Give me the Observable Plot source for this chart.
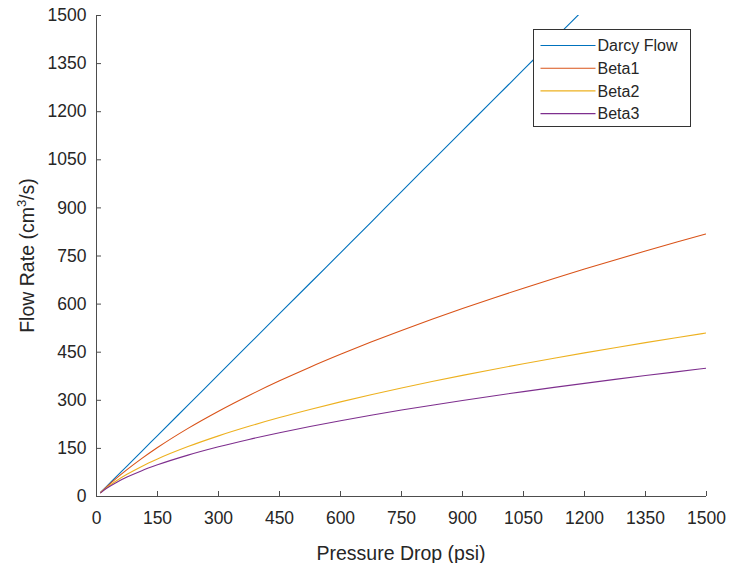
<!DOCTYPE html>
<html>
<head>
<meta charset="utf-8">
<script src="https://cdn.jsdelivr.net/npm/d3@7"></script>
<script src="https://cdn.jsdelivr.net/npm/@observablehq/plot@0.6"></script>
<style>
  html, body { margin: 0; padding: 0; background: #ffffff; }
  #chart { width: 731px; height: 563px; }
  svg { font-family: "Liberation Sans", Arial, sans-serif; }
</style>
</head>
<body>
<div id="chart"></div>
<script>
// ---- Data ----
const pressure = [10, 25, 50, 75, 110, 150, 225, 300, 375, 450, 525, 600, 675, 750, 825, 900, 975, 1050, 1125, 1200, 1275, 1350, 1425, 1500];
const darcyFlow = [12.7, 31.7, 63.4, 95, 139.4, 190, 285, 380, 475, 570, 665, 760, 855, 951, 1046, 1141, 1236, 1331, 1426, 1521, 1616, 1711, 1806, 1901];
const beta1 = [12.4, 30.2, 57.9, 83.7, 117.2, 152.6, 212.4, 266.0, 315.1, 360.6, 403.2, 443.3, 481.5, 517.9, 552.7, 586.2, 618.5, 649.7, 679.9, 709.3, 737.8, 765.5, 792.6, 819.0];
const beta2 = [11.9, 27.6, 50.0, 69.3, 93.1, 117.0, 155.6, 189.1, 218.9, 246.2, 271.4, 295.0, 317.2, 338.3, 358.4, 377.7, 396.2, 414.0, 431.2, 447.9, 464.1, 479.8, 495.1, 510.0];
const beta3 = [11.4, 25.6, 44.7, 60.6, 79.8, 98.7, 129.0, 155.0, 178.0, 199.0, 218.3, 236.4, 253.4, 269.5, 284.8, 299.5, 313.6, 327.1, 340.2, 352.9, 365.2, 377.1, 388.7, 400.1];

const seriesNames = ["Darcy Flow", "Beta1", "Beta2", "Beta3"];
const seriesColors = ["#0072BD", "#D95319", "#EDB120", "#7E2F8E"];
const xTicks = [0, 150, 300, 450, 600, 750, 900, 1050, 1200, 1350, 1500];
const yTicks = [0, 150, 300, 450, 600, 750, 900, 1050, 1200, 1350, 1500];
const xLabel = "Pressure Drop (psi)";

// ---- Build table ----
const seriesValues = [darcyFlow, beta1, beta2, beta3];
const rows = [];
seriesNames.forEach((name, i) => {
  pressure.forEach((p, j) => rows.push({p, q: seriesValues[i][j], series: name}));
});

const textColor = "#262626";
const axisColor = "#4d4d4d";

const plot = Plot.plot({
  width: 731,
  height: 563,
  marginLeft: 96,
  marginRight: 25,
  marginTop: 15,
  marginBottom: 67,
  style: {background: "#ffffff", color: textColor, fontFamily: "Liberation Sans, Arial, sans-serif"},
  x: {domain: [0, 1500]},
  y: {domain: [0, 1500]},
  color: {domain: seriesNames, range: seriesColors},
  marks: [
    Plot.line(rows, {x: "p", y: "q", stroke: "series", z: "series", strokeWidth: 1.1, curve: "monotone-x", clip: true}),
    Plot.ruleX([0], {stroke: axisColor, strokeWidth: 1}),
    Plot.ruleY([0], {stroke: axisColor, strokeWidth: 1}),
    Plot.axisX({ticks: xTicks, tickSize: 5, tickPadding: 10, stroke: axisColor, fill: textColor, fontSize: 17.5, label: null, tickFormat: d => String(d)}),
    Plot.axisY({ticks: yTicks, tickSize: 5, tickPadding: 5, stroke: axisColor, fill: textColor, fontSize: 17.5, label: null, tickFormat: d => String(d)})
  ]
});

document.getElementById("chart").appendChild(plot);

const svg = d3.select(plot);

// Turn the axis ticks inward (MATLAB style): mirror each tick about its anchor point
svg.selectAll('g[aria-label="x-axis tick"] path').each(function() {
  const t = this.getAttribute("transform") || "";
  this.setAttribute("transform", t + " scale(1,-1)");
});
svg.selectAll('g[aria-label="y-axis tick"] path').each(function() {
  const t = this.getAttribute("transform") || "";
  this.setAttribute("transform", t + " scale(-1,1)");
});

// ---- Axis titles ----
const W = 731, H = 563, mL = 96, mR = 25, mT = 15, mB = 67;
const cx = mL + (W - mL - mR) / 2;
const cy = mT + (H - mT - mB) / 2;

svg.append("text")
  .attr("x", cx).attr("y", 560)
  .attr("text-anchor", "middle")
  .attr("font-size", 19.5)
  .attr("fill", textColor)
  .text(xLabel);

const yl = svg.append("text")
  .attr("transform", `translate(34,${cy}) rotate(-90)`)
  .attr("text-anchor", "middle")
  .attr("font-size", 19.5)
  .attr("fill", textColor);
yl.append("tspan").text("Flow Rate (cm");
yl.append("tspan").attr("dy", -8).attr("font-size", 13).text("3");
yl.append("tspan").attr("dy", 8).text("/s)");

// ---- Legend (inside axes, top right) ----
const lg = svg.append("g").attr("transform", "translate(533.5,29.5)");
lg.append("rect").attr("width", 157).attr("height", 97)
  .attr("fill", "#ffffff").attr("stroke", "#333333").attr("stroke-width", 1);
seriesNames.forEach((name, i) => {
  const y = 16 + i * 22.7;
  lg.append("line").attr("x1", 7).attr("x2", 62).attr("y1", y).attr("y2", y)
    .attr("stroke", seriesColors[i]).attr("stroke-width", 1.1);
  lg.append("text").attr("x", 64).attr("y", y).attr("dy", "0.35em")
    .attr("text-anchor", "start")
    .attr("font-size", 16).attr("fill", textColor).text(name);
});
</script>
</body>
</html>
